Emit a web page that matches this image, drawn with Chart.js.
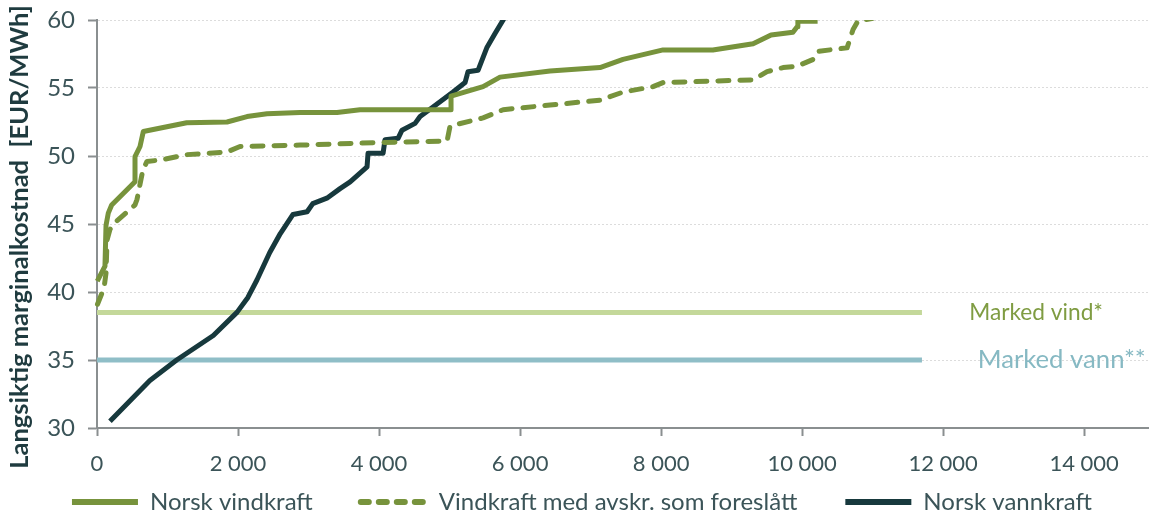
<!DOCTYPE html>
<html>
<head>
<meta charset="utf-8">
<script src="https://cdn.jsdelivr.net/npm/chart.js@4.4.1/dist/chart.umd.min.js"></script>
<style>
  html, body { margin: 0; padding: 0; background: #ffffff; }
  #wrap { width: 1149px; height: 521px; }
</style>
</head>
<body>
<div id="wrap"><canvas id="c" width="1149" height="521"></canvas></div>
<script>
// Supply curves: cumulative volume (x) against long-run marginal cost in EUR/MWh (y)
const vindX = [4, 113, 128, 160, 208, 539, 539, 610, 657, 1272, 1844, 2128, 2411, 2880, 3404, 3730, 5021, 5021, 5475, 5716, 6425, 7134, 7460, 8028, 8735, 9305, 9560, 9870, 9930, 9940, 10220];
const vindY = [40.8, 41.9, 44.9, 45.8, 46.4, 48.1, 49.95, 50.7, 51.8, 52.45, 52.5, 52.9, 53.1, 53.2, 53.2, 53.4, 53.4, 54.4, 55.1, 55.8, 56.25, 56.5, 57.1, 57.8, 57.8, 58.25, 58.9, 59.1, 59.5, 59.9, 59.9];

const avskrX = [7, 100, 128, 142, 184, 255, 539, 567, 652, 709, 894, 1277, 1844, 2028, 2880, 4057, 4965, 5007, 5475, 5760, 6425, 7134, 7460, 7886, 8028, 9305, 9503, 9730, 9929, 10156, 10227, 10638, 10723, 10794, 10990];
const avskrY = [39.1, 40.3, 41.4, 43.8, 44.6, 45.1, 46.4, 46.8, 49.0, 49.6, 49.7, 50.1, 50.3, 50.7, 50.8, 51.0, 51.1, 52.2, 52.8, 53.4, 53.75, 54.1, 54.7, 55.1, 55.4, 55.6, 56.2, 56.5, 56.6, 57.1, 57.7, 57.95, 59.3, 59.95, 60.1];

const vannX = [184, 750, 1130, 1650, 1985, 2140, 2270, 2450, 2600, 2780, 2980, 3060, 3260, 3447, 3590, 3830, 3844, 4057, 4085, 4270, 4326, 4511, 4582, 4766, 5050, 5220, 5262, 5404, 5532, 5645, 5760, 5800];
const vannY = [30.5, 33.5, 35.0, 36.8, 38.5, 39.6, 40.9, 42.9, 44.3, 45.7, 45.9, 46.5, 46.9, 47.6, 48.1, 49.2, 50.2, 50.2, 51.2, 51.3, 51.9, 52.4, 52.9, 53.6, 54.7, 55.4, 56.2, 56.3, 58.0, 59.0, 60.0, 60.4];

const seriesNames = ['Norsk vindkraft', 'Vindkraft med avskr. som foreslått', 'Norsk vannkraft'];

// Reference market price levels
const marketNames = ['Marked vind*', 'Marked vann**'];
const marketLevels = [38.5, 35.0];
const marketSpan = [0, 11700];

const xTickValues = [0, 2000, 4000, 6000, 8000, 10000, 12000, 14000];
const xTickLabels = ['0', '2 000', '4 000', '6 000', '8 000', '10 000', '12 000', '14 000'];
const yTickValues = [30, 35, 40, 45, 50, 55, 60];
const yTitle = 'Langsiktig marginalkostnad  [EUR/MWh]';

const pts = (xs, ys) => xs.map((x, i) => ({ x, y: ys[i] }));

const OLIVE = '#77933c';
const DARK = '#17393d';
const TEXT = '#3b5458';
const AXIS = '#8a8f90';
const FONT = 'Lato, sans-serif';
const marketColors = ['#c4d89a', '#8fbec7'];
const marketTextColors = ['#7f9c42', '#86b9c3'];
const marketFontSizes = [22.7, 25.7];
const marketLabelX = [12370, 12490];

const curveStyle = {
  pointRadius: 0, pointHoverRadius: 0, pointStyle: 'line',
  borderWidth: 5, borderJoinStyle: 'round', fill: false, tension: 0,
  clip: { left: false, top: 0, right: false, bottom: false }
};

const datasets = [
  Object.assign({ label: seriesNames[0], data: pts(vindX, vindY), borderColor: OLIVE, backgroundColor: OLIVE, borderCapStyle: 'butt' }, curveStyle),
  Object.assign({ label: seriesNames[1], data: pts(avskrX, avskrY), borderColor: OLIVE, backgroundColor: OLIVE, borderDash: [11, 11], borderCapStyle: 'round' }, curveStyle),
  Object.assign({ label: seriesNames[2], data: pts(vannX, vannY), borderColor: DARK, backgroundColor: DARK, borderCapStyle: 'butt' }, curveStyle)
];
marketLevels.forEach((lvl, i) => {
  datasets.push(Object.assign({}, curveStyle, {
    label: marketNames[i],
    data: pts(marketSpan, [lvl, lvl]),
    borderColor: marketColors[i], backgroundColor: marketColors[i],
    borderCapStyle: 'butt', borderWidth: 5
  }));
});

// Text labels on the market lines and the rotated value-axis title
const annotations = {
  id: 'annotations',
  afterDatasetsDraw(chart) {
    const { ctx, scales: { x, y } } = chart;
    ctx.save();
    ctx.textBaseline = 'middle';
    ctx.textAlign = 'left';
    marketNames.forEach((name, i) => {
      ctx.font = marketFontSizes[i] + 'px ' + FONT;
      ctx.fillStyle = marketTextColors[i];
      ctx.fillText(name, x.getPixelForValue(marketLabelX[i]), y.getPixelForValue(marketLevels[i]));
    });
    ctx.translate(28, 237);
    ctx.rotate(-Math.PI / 2);
    ctx.textAlign = 'center';
    ctx.textBaseline = 'alphabetic';
    ctx.font = 'bold 25.5px ' + FONT;
    ctx.fillStyle = '#1f3b3f';
    ctx.fillText(yTitle, 0, 0);
    ctx.restore();
  }
};

new Chart(document.getElementById('c'), {
  type: 'line',
  data: { datasets },
  plugins: [annotations],
  options: {
    responsive: false,
    devicePixelRatio: 1,
    animation: false,
    events: [],
    layout: { padding: { top: 20, left: 15, right: 0, bottom: -3 } },
    scales: {
      x: {
        type: 'linear', min: 0, max: 14920,
        afterBuildTicks(scale) { scale.ticks = xTickValues.map(v => ({ value: v })); },
        afterFit(scale) {
          scale.height = 14;
          scale.paddingLeft = 0;
          scale.paddingRight = 0;
          // tick labels hang below the thin axis box, so draw them unclipped
          scale._computeLabelArea = () => undefined;
        },
        ticks: {
          callback: (v) => xTickLabels[xTickValues.indexOf(v)],
          font: { family: FONT, size: 22 }, color: TEXT, padding: 15, maxRotation: 0, autoSkip: false
        },
        grid: { drawOnChartArea: false, drawTicks: true, tickLength: 8, tickColor: AXIS, tickWidth: 2 },
        border: { display: true, color: AXIS, width: 2 }
      },
      y: {
        min: 30, max: 60,
        afterBuildTicks(scale) { scale.ticks = yTickValues.map(v => ({ value: v })); },
        afterFit(scale) {
          scale.width = 82;
          scale.paddingTop = 0;
          scale.paddingBottom = 0;
        },
        ticks: { font: { family: FONT, size: 24 }, color: TEXT, padding: 13 },
        grid: { color: '#dcdcdc', lineWidth: 1, drawTicks: true, tickLength: 9, tickColor: AXIS, tickWidth: 2, tickBorderDash: [] },
        border: { display: true, color: AXIS, width: 2, dash: [2, 2] }
      }
    },
    plugins: {
      tooltip: { enabled: false },
      legend: {
        position: 'bottom',
        labels: {
          usePointStyle: true, pointStyleWidth: 66,
          font: { family: FONT, size: 24 }, color: TEXT, padding: 48,
          filter: (item) => item.datasetIndex < 3,
          // line samples keep each series' dash pattern
          generateLabels(chart) {
            const items = Chart.defaults.plugins.legend.labels.generateLabels(chart);
            items.forEach((item) => {
              const ds = chart.data.datasets[item.datasetIndex];
              item.lineWidth = 6;
              item.lineDash = ds.borderDash ? [8, 10] : [];
              item.lineCap = ds.borderDash ? 'round' : 'butt';
            });
            return items;
          }
        }
      }
    }
  }
});
</script>
</body>
</html>
